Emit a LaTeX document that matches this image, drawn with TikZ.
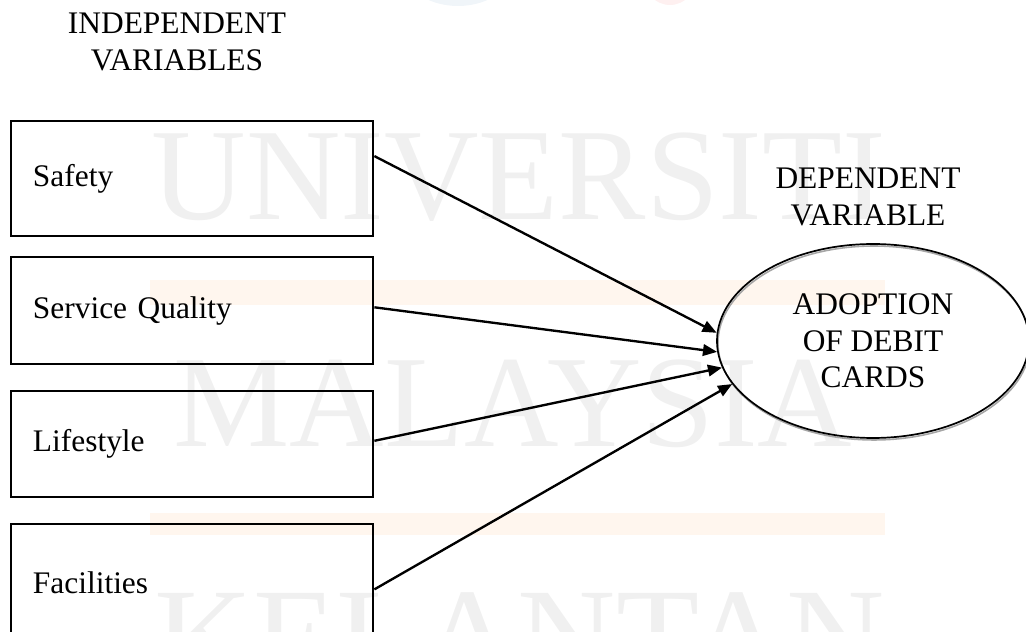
\documentclass[tikz,border=0pt]{standalone}
\usepackage{fontspec}
\setmainfont{Liberation Serif}
\usepackage{tikz}
\usetikzlibrary{arrows.meta,shapes.geometric}

\definecolor{wmgray}{RGB}{240,240,240}
\definecolor{wmorange}{RGB}{255,246,238}
\definecolor{wmblue}{RGB}{240,245,249}
\definecolor{wmred}{RGB}{254,240,240}

\begin{document}
\begin{tikzpicture}[
            x=0.382pt, y=-0.382pt,
            txt/.style={font=\fontsize{12}{14}\selectfont},
            heading/.style={txt,align=center},
            varbox/.style={draw,line width=1.05pt,txt,align=left,text width=121.5pt,inner xsep=8.4pt,inner ysep=0pt},
            outcome/.style={ellipse,draw,line width=0.65pt,txt,align=center,minimum width=119.2pt,minimum height=74.1pt,inner sep=0pt},
            outshade/.style={ellipse,draw=black!35,line width=0.6pt,minimum width=119.2pt,minimum height=74.1pt,inner sep=0pt},
            wmtext/.style={text=wmgray,font=\fontsize{50}{50}\selectfont,anchor=base,inner sep=0pt},
            arrow/.style={-{Triangle[length=5.4pt,width=4.4pt]},line width=0.9pt}
        ]
            \useasboundingbox (0,0) rectangle (1026,632);
            \clip (0,0) rectangle (1026,632);
            % faint page watermark
            \fill[wmblue] (458,-34) ellipse [x radius=56, y radius=40];
            \fill[wmred] (670,-26) ellipse [x radius=28, y radius=31];
            \fill[wmorange] (150,280) rectangle (885,305);
            \fill[wmorange] (150,513) rectangle (885,535);
            \node[wmtext] (wm1) at (519,220) {UNIVERSITI};
            \node[wmtext] (wm2) at (513,447) {MALAYSIA};
            \node[wmtext,font=\fontsize{52}{52}\selectfont] (wm3) at (520,682) {KELANTAN};

            \node[heading] (indep) at (177,42) {INDEPENDENT\\VARIABLES};
            \node[heading] (dep) at (868,197) {DEPENDENT\\VARIABLE};

            \node[varbox,minimum height=43.9pt] (safety) at (192,178.5) {Safety};
            \node[varbox,minimum height=40.9pt] (service) at (192,310.5) {Service Quality};
            \node[varbox,minimum height=40.5pt] (life) at (192,444) {Lifestyle};
            \node[varbox,minimum height=45.1pt] (facil) at (192,583) {Facilities};

            \node[outshade] (adoptshade) at (874,343) {};
            \node[outcome] (adopt) at (873,341) {ADOPTION\\OF DEBIT\\CARDS};

            \draw[arrow] (safety.7) -- (adopt.177);
            \draw[arrow] (service.1) -- (adopt.184);
            \draw[arrow] (life.1) -- (adopt.190);
            \draw[arrow] (facil.-2) -- (adopt.197);
        \end{tikzpicture}
\end{document}
